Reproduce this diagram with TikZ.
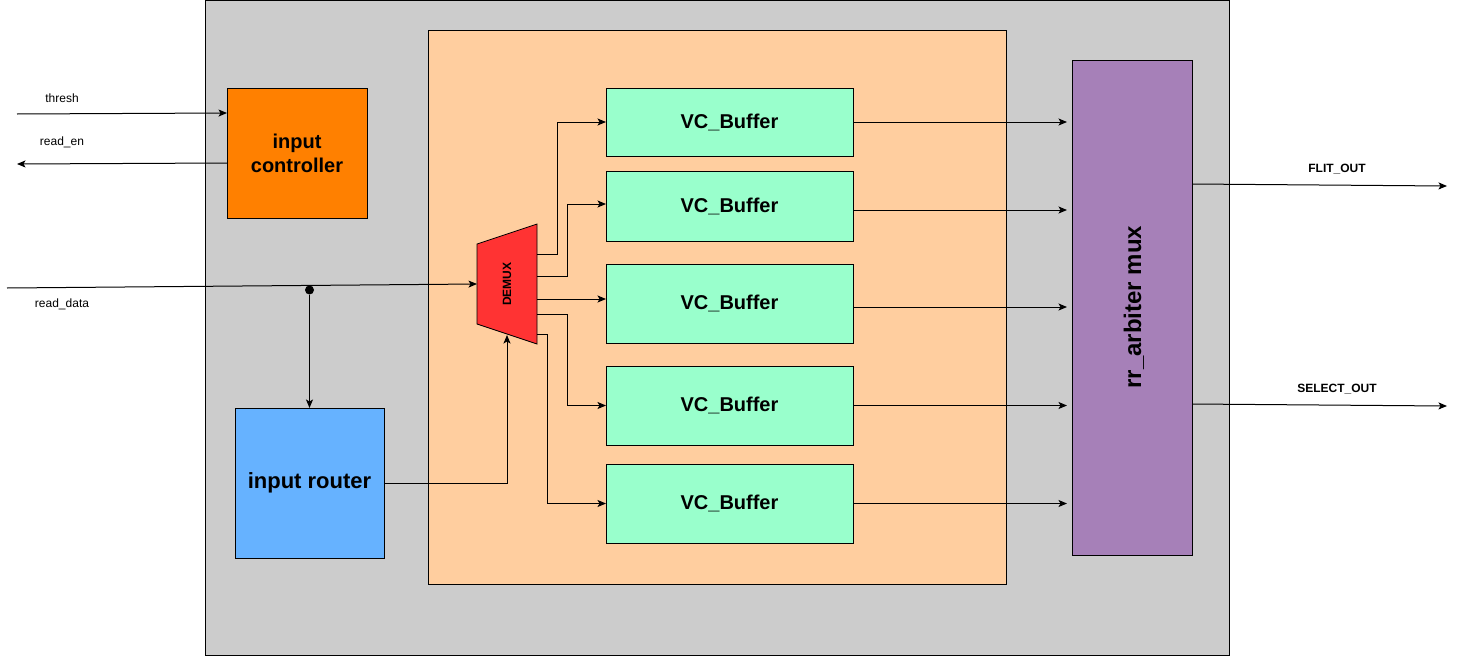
\documentclass[tikz,border=0pt]{standalone}
\usepackage{fontspec}
\setmainfont{Liberation Sans}
\usetikzlibrary{arrows.meta}
\definecolor{outergray}{HTML}{CCCCCC}
\definecolor{ctrlorange}{HTML}{FF8000}
\definecolor{routerblue}{HTML}{66B2FF}
\definecolor{peach}{HTML}{FFCE9F}
\definecolor{vcgreen}{HTML}{99FFCC}
\definecolor{arbpurple}{HTML}{A680B8}
\definecolor{demuxred}{HTML}{FF3333}
\tikzset{
  box/.style={draw=black, line width=0.9pt, inner sep=0pt, outer sep=0pt, anchor=north west, align=center, font=\bfseries\fontsize{20}{24}\selectfont},
  arr/.style={draw=black, line width=1pt, -{Stealth[length=8.5pt,width=7pt,inset=2pt]}},
  wire/.style={draw=black, line width=1pt},
  lbl/.style={font=\fontsize{12}{14}\selectfont, inner sep=0pt},
  blbl/.style={font=\bfseries\fontsize{12}{14}\selectfont, inner sep=0pt}
}
\begin{document}
\begin{tikzpicture}[x=1pt,y=-1pt]
\useasboundingbox (0,0) rectangle (1457,656);
\fill[white] (0,0) rectangle (1457,656);

% outer box
\node[box, fill=outergray, minimum width=1024pt, minimum height=655pt] (outer) at (205,0.5) {};
% peach container
\node[box, fill=peach, minimum width=578pt, minimum height=554pt] (core) at (428,30) {};
% input controller
\node[box, fill=ctrlorange, minimum width=140pt, minimum height=130pt] (ictrl) at (227,88) {input\\controller};
% input router
\node[box, fill=routerblue, minimum width=149pt, minimum height=150pt, font=\bfseries\fontsize{22}{26}\selectfont] (router) at (235,408) {input router};
% VC buffers
\node[box, fill=vcgreen, minimum width=247pt, minimum height=68pt] (vc1) at (606,88) {VC\_Buffer};
\node[box, fill=vcgreen, minimum width=247pt, minimum height=70pt] (vc2) at (606,171) {VC\_Buffer};
\node[box, fill=vcgreen, minimum width=247pt, minimum height=79pt] (vc3) at (606,264) {VC\_Buffer};
\node[box, fill=vcgreen, minimum width=247pt, minimum height=79pt] (vc4) at (606,366) {VC\_Buffer};
\node[box, fill=vcgreen, minimum width=247pt, minimum height=79pt] (vc5) at (606,464) {VC\_Buffer};
% arbiter
\node[box, fill=arbpurple, minimum width=120pt, minimum height=495pt] (arb) at (1072,60) {};
\node[font=\bfseries\fontsize{24}{28}\selectfont, rotate=90, inner sep=0pt] (arblbl) at (1134,307) {rr\_arbiter mux};

% demux
\draw[fill=demuxred, draw=black, line width=0.8pt] (477,244) -- (537,224) -- (537,344) -- (477,324) -- cycle;
\node[font=\bfseries\fontsize{12}{14}\selectfont, rotate=90, inner sep=0pt] (demux) at (507,284) {DEMUX};
\coordinate (dmin) at (477,284);
\coordinate (dmsel) at (507,335);
\coordinate (o1) at (537,254);
\coordinate (o2) at (537,276);
\coordinate (o3) at (537,299);
\coordinate (o4) at (537,314);
\coordinate (o5) at (537,334);

% external ends
\coordinate (threshin) at (17,114);
\coordinate (readenout) at (17,164);
\coordinate (rdin) at (7,288);
\coordinate (flitend) at (1447,186);
\coordinate (selend) at (1447,406);

% inputs
\draw[arr] (threshin) -- (ictrl.west |- 0,113);
\draw[arr] (ictrl.west |- 0,163) -- (readenout);
\draw[arr] (rdin) -- (dmin);
\node[circle, fill=black, inner sep=0pt, minimum size=9pt] (junc) at (309.5,290) {};
\draw[arr] (junc) -- (junc |- router.north);
\draw[arr] (router.east) -| (dmsel);

% demux outputs
\draw[arr] (o1) -- (557,254) |- (vc1.west);
\draw[arr] (o2) -- (567,276) |- (vc2.west |- 0,204);
\draw[arr] (o3) -- (vc3.west |- 0,299);
\draw[arr] (o4) -- (567,314) |- (vc4.west);
\draw[arr] (o5) -- (547,334) |- (vc5.west);

% buffer outputs
\draw[arr, shorten >=5pt] (vc1.east) -- (arb.west |- vc1.east);
\draw[arr, shorten >=5pt] (vc2.east |- 0,210) -- (arb.west |- 0,210);
\draw[arr, shorten >=5pt] (vc3.east |- 0,307) -- (arb.west |- 0,307);
\draw[arr, shorten >=5pt] (vc4.east) -- (arb.west |- vc4.east);
\draw[arr, shorten >=5pt] (vc5.east) -- (arb.west |- vc5.east);

% outputs
\draw[arr] (arb.east |- 0,184) -- (flitend);
\draw[arr] (arb.east |- 0,404) -- (selend);

% labels
\node[lbl] (lthresh) at (62,98) {thresh};
\node[lbl] (lreaden) at (62,142) {read\_en};
\node[lbl] (lreaddata) at (62,304) {read\_data};
\node[blbl] (lflit) at (1337,169) {FLIT\_OUT};
\node[blbl] (lsel) at (1337,389) {SELECT\_OUT};
\end{tikzpicture}
\end{document}
